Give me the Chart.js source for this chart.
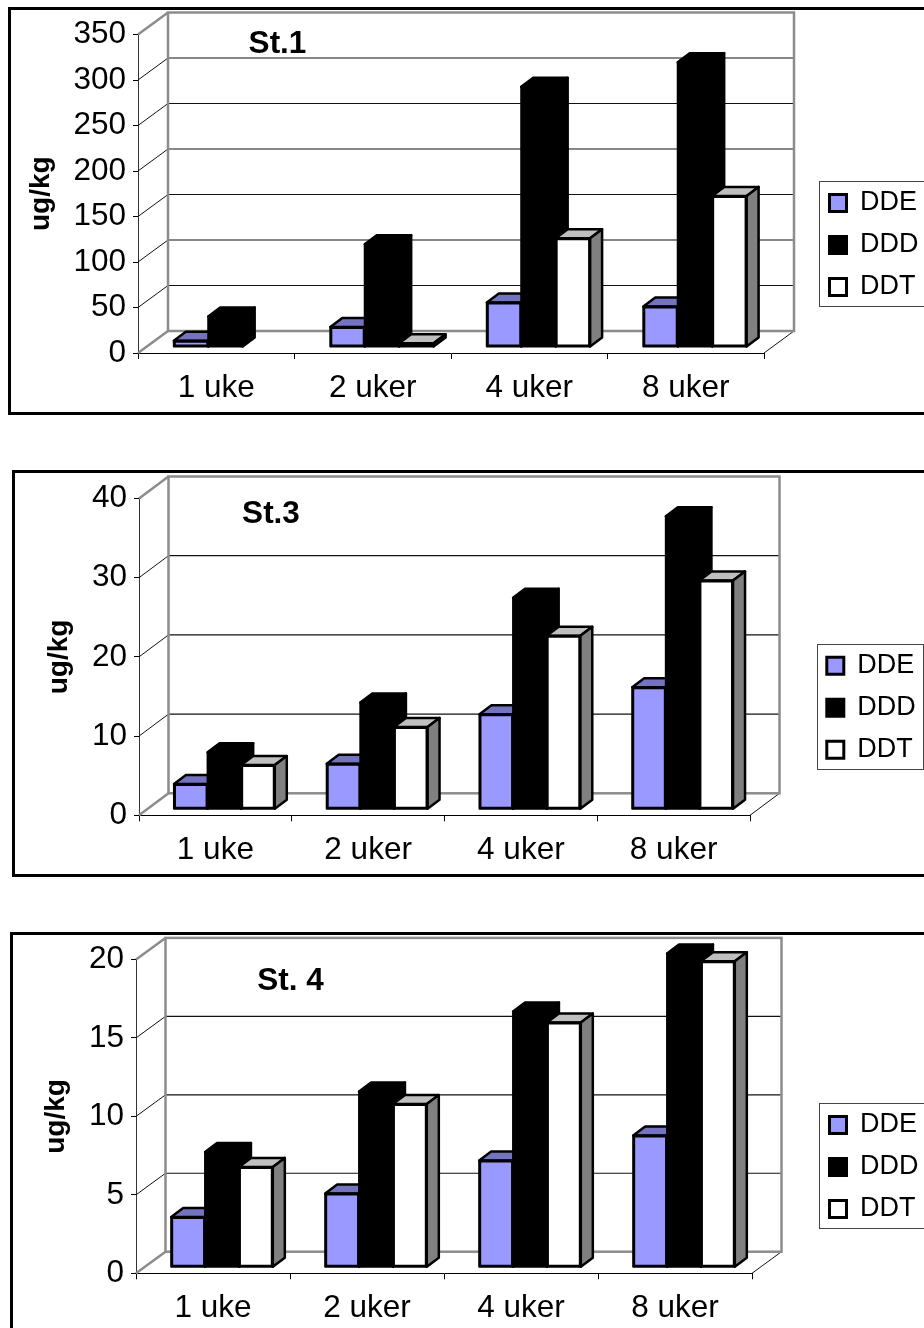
<!DOCTYPE html>
<html>
<head>
<meta charset="utf-8">
<title>DDE, DDD, DDT</title>
<script src="https://cdn.jsdelivr.net/npm/chart.js@4"></script>
<style>
    html, body { margin: 0; padding: 0; background: #fff; width: 924px; height: 1328px; overflow: hidden; }
    .ramme { position: absolute; border: 3px solid #000; box-sizing: border-box; }
    canvas { position: absolute; left: 0; }
</style>
</head>
<body>
<div class="ramme" style="left:8px;top:7px;width:940px;height:408px"></div>
<div class="ramme" style="left:12px;top:470px;width:940px;height:407px"></div>
<div class="ramme" style="left:10px;top:932px;width:940px;height:420px"></div>
<canvas id="st1" width="924" height="462" style="top:0"></canvas>
<canvas id="st3" width="924" height="462" style="top:462px"></canvas>
<canvas id="st4" width="924" height="404" style="top:924px"></canvas>

<script>
// Data
const uker = ['1 uke', '2 uker', '4 uker', '8 uker'];
const serier = ['DDE', 'DDD', 'DDT'];

const st1DDE = [7, 22, 49, 44.5];
const st1DDD = [33.5, 113, 286, 313];
const st1DDT = [0, 4, 119.5, 166];

const st3DDE = [3.2, 5.75, 12, 15.4];
const st3DDD = [7.2, 13.5, 26.7, 37];
const st3DDT = [5.6, 10.4, 21.9, 28.9];

const st4DDE = [3.2, 4.7, 6.8, 8.4];
const st4DDD = [7.35, 11.2, 16.3, 20];
const st4DDT = [6.4, 10.4, 15.6, 19.5];

const farger = ['#9999ff', '#000000', '#ffffff'];
const toppFarger = ['#7373bf', '#000000', '#bfbfbf'];
const sideFarger = ['#5c5c99', '#000000', '#808080'];

const GRAA = '#8c8c8c';

// Top and side of the bars of one series, then the front from the library
function tegnSerie(chart, i) {
    const o = chart.options.plugins.trede;
    const ctx = chart.ctx;
    const meta = chart.getDatasetMeta(i);
    const verdier = chart.data.datasets[i].data;
    const dx = o.sideX, dy = o.sideY;
    ctx.save();
    ctx.translate(o.flyttX, -o.flyttY);
    ctx.strokeStyle = '#000';
    ctx.lineWidth = 2.5;
    ctx.lineJoin = 'round';
    meta.data.forEach((bar, n) => {
        if (!verdier[n]) return;
        const l = bar.x - bar.width / 2, r = bar.x + bar.width / 2;
        ctx.fillStyle = toppFarger[i];
        ctx.beginPath();
        ctx.moveTo(l, bar.y);
        ctx.lineTo(l + dx, bar.y - dy);
        ctx.lineTo(r + dx, bar.y - dy);
        ctx.lineTo(r, bar.y);
        ctx.closePath();
        ctx.fill();
        ctx.stroke();
        ctx.fillStyle = sideFarger[i];
        ctx.beginPath();
        ctx.moveTo(r, bar.y);
        ctx.lineTo(r + dx, bar.y - dy);
        ctx.lineTo(r + dx, bar.base - dy);
        ctx.lineTo(r, bar.base);
        ctx.closePath();
        ctx.fill();
        ctx.stroke();
        // black underneath, so no light seam shows inside the border
        ctx.fillStyle = '#000';
        ctx.fillRect(l, bar.y, bar.width, bar.base - bar.y);
    });
    meta.controller.draw();
    // the outline in the picture sits on the edge of the bar, not inside it
    ctx.lineWidth = 2;
    meta.data.forEach((bar, n) => {
        if (!verdier[n]) return;
        ctx.strokeRect(bar.x - bar.width / 2, bar.y, bar.width, bar.base - bar.y);
    });
    ctx.restore();
}

// The 3D look: back wall, legend box, and series drawn left to right
const tredePlugin = {
    id: 'trede',
    afterLayout(chart) {
        const o = chart.options.plugins.trede;
        const legend = chart.legend;
        legend.left = o.legendX;
        legend.top = o.legendY;
        legend.right = o.legendX + 110;
        legend.bottom = o.legendY + 180;
        const tittel = chart.titleBlock;
        tittel.left = o.tittelX - 100;
        tittel.right = o.tittelX + 100;
        tittel.top = o.tittelY;
        tittel.bottom = o.tittelY + 30;
    },
    beforeDraw(chart) {
        const o = chart.options.plugins.trede;
        const ctx = chart.ctx;
        ctx.save();
        ctx.strokeStyle = '#444';
        ctx.lineWidth = 1;
        ctx.strokeRect(o.boksX + 0.5, o.boksY + 0.5, o.boksW, 125);
        ctx.restore();
    },
    beforeDatasetsDraw(chart) {
        const o = chart.options.plugins.trede;
        const ctx = chart.ctx;
        const x = chart.scales.x, y = chart.scales.y;
        const d = o.dybdeX, e = o.dybdeY;
        const linje = (x1, y1, x2, y2, farge, bredde) => {
            ctx.strokeStyle = farge;
            ctx.lineWidth = bredde;
            ctx.beginPath();
            ctx.moveTo(x1, y1);
            ctx.lineTo(x2, y2);
            ctx.stroke();
        };
        const yMax = y.getPixelForValue(y.max), y0 = y.getPixelForValue(0);
        ctx.save();
        y.ticks.forEach(t => {
            if (t.value === 0 || t.value === y.max) return;
            const p = y.getPixelForValue(t.value);
            linje(x.left, p, x.left + d, p - e, '#111', 1);
            linje(x.left + d, p - e, x.right + d, p - e, '#111', 1.2);
        });
        linje(x.left, yMax, x.left + d, yMax - e, GRAA, 2.5);
        linje(x.left, y0, x.left + d, y0 - e, GRAA, 2.5);
        linje(x.right, y0, x.right + d, y0 - e, '#111', 1);
        ctx.strokeStyle = GRAA;
        ctx.lineWidth = 2.5;
        ctx.strokeRect(x.left + d, yMax - e, x.right - x.left, y0 - yMax);
        ctx.restore();
    },
    // Chart.js paints the last series first; here DDT has to land on top
    beforeDatasetDraw() {
        return false;
    },
    afterDatasetsDraw(chart) {
        serier.forEach((navn, i) => tegnSerie(chart, i));
    }
};

function lagGraf(id, tittel, dde, ddd, ddt, maks, steg, mal) {
    const verdier = [dde, ddd, ddt];
    new Chart(document.getElementById(id), {
        type: 'bar',
        plugins: [tredePlugin],
        data: {
            labels: uker,
            datasets: serier.map((navn, i) => ({
                label: navn,
                data: verdier[i],
                backgroundColor: farger[i],
                borderColor: '#000',
                borderWidth: 2,
                borderSkipped: false,
                categoryPercentage: 0.66,
                barPercentage: 1
            }))
        },
        options: {
            responsive: false,
            animation: false,
            devicePixelRatio: 1,
            layout: { padding: mal.padding },
            plugins: {
                tooltip: { enabled: false },
                title: {
                    display: true,
                    text: tittel,
                    color: '#000',
                    padding: 0,
                    font: { family: 'Liberation Sans', size: 31.5, weight: 'bold', lineHeight: 1 }
                },
                legend: {
                    position: 'chartArea',
                    align: 'start',
                    labels: {
                        color: '#000',
                        boxWidth: 17,
                        boxHeight: 17,
                        padding: 15,
                        font: { family: 'Liberation Sans', size: 27 },
                        generateLabels: c => Chart.defaults.plugins.legend.labels.generateLabels(c)
                            .map(item => ({ ...item, lineWidth: 3 }))
                    }
                },
                trede: mal
            },
            scales: {
                x: {
                    afterFit: s => { s.height = mal.xHoyde; },
                    grid: { drawOnChartArea: false, color: '#000', tickLength: 6 },
                    border: { color: '#000', width: 1 },
                    ticks: {
                        color: '#000',
                        padding: 10.5,
                        maxRotation: 0,
                        autoSkip: false,
                        font: { family: 'Liberation Sans', size: 31.5 }
                    }
                },
                y: {
                    min: 0,
                    max: maks,
                    afterFit: s => { s.width = mal.yBredde; },
                    grid: { drawOnChartArea: false, color: '#000', tickLength: 5 },
                    border: { color: '#333', width: 1 },
                    ticks: {
                        stepSize: steg,
                        color: '#000',
                        padding: 7,
                        font: { family: 'Liberation Sans', size: 31.5 }
                    },
                    title: {
                        display: true,
                        text: 'ug/kg',
                        color: '#000',
                        padding: 0,
                        font: { family: 'Liberation Sans', size: 28, weight: 'bold' }
                    }
                }
            }
        }
    });
}

// St.1  canvas starts at y=0
lagGraf('st1', 'St.1', st1DDE, st1DDD, st1DDT, 350, 50, {
    padding: { left: 24, top: 3, right: 160, bottom: 49 },
    xHoyde: 60, yBredde: 114, dybdeX: 30, dybdeY: 22, flyttX: 9.2, flyttY: 6, sideX: 12, sideY: 9,
    tittelX: 277.5, tittelY: 29, legendX: 814.5, legendY: 174.5,
    boksX: 819, boksY: 181, boksW: 120
});

// St.3  canvas starts at y=462
lagGraf('st3', 'St.3', st3DDE, st3DDD, st3DDT, 40, 10, {
    padding: { left: 42, top: 5, right: 174, bottom: 48.7 },
    xHoyde: 60, yBredde: 97, dybdeX: 29.5, dybdeY: 22, flyttX: 9, flyttY: 6, sideX: 12, sideY: 9,
    tittelX: 271, tittelY: 37, legendX: 811.8, legendY: 175.2,
    boksX: 817, boksY: 182, boksW: 106
});

// St. 4  canvas starts at y=924
lagGraf('st4', 'St. 4', st4DDE, st4DDD, st4DDT, 20, 5, {
    padding: { left: 39, top: 4, right: 172, bottom: 0 },
    xHoyde: 54.7, yBredde: 97, dybdeX: 29.5, dybdeY: 21.6, flyttX: 9, flyttY: 6, sideX: 12, sideY: 9,
    tittelX: 290.5, tittelY: 42, legendX: 814.5, legendY: 172.5,
    boksX: 819, boksY: 179, boksW: 120
});
</script>
</body>
</html>
